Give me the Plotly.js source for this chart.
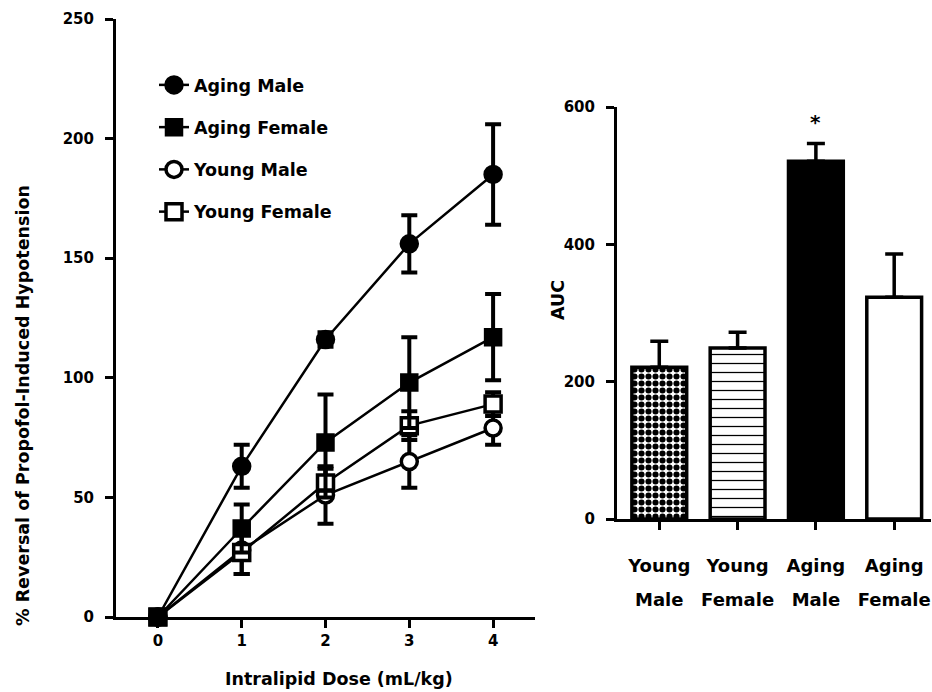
<!DOCTYPE html>
<html>
<head>
<meta charset="utf-8">
<script src="https://cdn.plot.ly/plotly-3.0.1.min.js"></script>
<style>html,body{margin:0;padding:0;background:#fff;}#chart{width:932px;height:692px;}</style>
</head>
<body>
<div id="chart"></div>
<script>
// ---- data ----
const doses = [0, 1, 2, 3, 4];
const seriesNames = ['Aging Male', 'Aging Female', 'Young Male', 'Young Female'];
const agingMale = [0, 63, 116, 156, 185];
const agingMaleErr = [0, 9, 3, 12, 21];
const agingFemale = [0, 37, 73, 98, 117];
const agingFemaleErr = [0, 10, 20, 19, 18];
const youngMale = [0, 28, 51, 65, 79];
const youngMaleErr = [0, 10, 12, 11, 7];
const youngFemale = [0, 27, 56, 80, 89];
const youngFemaleErr = [0, 9, 6, 6, 5];

const aucGroups = ['Young Male', 'Young Female', 'Aging Male', 'Aging Female'];
const aucValues = [221, 249, 521, 323];
const aucErr = [38, 23, 26, 63];

const xTitle = 'Intralipid Dose (mL/kg)';
const yTitle = '% Reversal of Propofol-Induced Hypotension';
const y2Title = 'AUC';

// ---- styles ----
const FONT = 'DejaVu Sans, Arial, sans-serif';
const symbols = ['circle', 'square', 'circle', 'square'];
const fills = ['black', 'black', 'white', 'white'];
const sizes = [16, 15, 16, 16];
const ys = [agingMale, agingFemale, youngMale, youngFemale];
const errs = [agingMaleErr, agingFemaleErr, youngMaleErr, youngFemaleErr];
const drawOrder = [2, 3, 1, 0]; // young male, young female, aging female, aging male (top)

const traces = [];
drawOrder.forEach(i => {
  traces.push({
    type: 'scatter', mode: 'lines+markers',
    x: doses, y: ys[i], name: seriesNames[i],
    xaxis: 'x', yaxis: 'y',
    legendgroup: 'g' + i, legendrank: i + 1,
    cliponaxis: false,
    line: {color: 'black', width: 2.5},
    marker: {symbol: symbols[i], size: sizes[i], color: fills[i], line: {color: 'black', width: 3.5}},
    error_y: {type: 'data', array: errs[i], visible: true, color: 'black', thickness: 4, width: 8}
  });
});

const patShapes = ['.', '-', '', ''];
const patSizes = [7, 9, 8, 8];
const patSolid = [0.6, 0.14, 0.3, 0.3];
const barColors = ['white', 'white', 'black', 'white'];
aucGroups.forEach((g, k) => {
  const marker = {color: barColors[k], line: {color: 'black', width: 3.5}};
  if (patShapes[k]) {
    marker.pattern = {shape: patShapes[k], fgcolor: 'black', bgcolor: 'white', size: patSizes[k], solidity: patSolid[k], fillmode: 'replace'};
  }
  traces.push({
    type: 'bar', x: [g], y: [aucValues[k]],
    xaxis: 'x2', yaxis: 'y2', showlegend: false, width: 0.7,
    marker: marker,
    error_y: {type: 'data', symmetric: false, array: [aucErr[k]], arrayminus: [0], color: 'black', thickness: 3.5, width: 9}
  });
});

const aucTickText = aucGroups.map(g => g.split(' ').map(w => "<span style='font-size:18px'>" + w + "</span>").join('<br>'));

const W = 932, H = 692;
const px = v => v / W, py = v => 1 - v / H;

const axisCommon = {
  showline: true, linecolor: 'black', linewidth: 3,
  ticks: 'outside', ticklen: 8, tickwidth: 3, tickcolor: 'black',
  showgrid: false, zeroline: false, fixedrange: true,
  tickfont: {family: FONT, size: 15, color: 'black', weight: 'bold'}
};
const titleFont = {family: FONT, size: 17.5, color: 'black', weight: 'bold'};

const layout = {
  width: W, height: H,
  margin: {l: 0, r: 0, t: 0, b: 0},
  paper_bgcolor: 'white', plot_bgcolor: 'white',
  barmode: 'overlay',
  showlegend: true,
  legend: {
    x: px(154), y: py(67), xanchor: 'left', yanchor: 'top',
    bgcolor: 'rgba(0,0,0,0)', traceorder: 'grouped', tracegroupgap: 16.5,
    font: {family: FONT, size: 17.5, color: 'black', weight: 'bold'},
    itemwidth: 30
  },
  xaxis: Object.assign({}, axisCommon, {
    domain: [px(116), px(535)], anchor: 'y', range: [-0.5, 4.5],
    tickmode: 'array', tickvals: doses, ticklabelstandoff: 0
  }),
  yaxis: Object.assign({}, axisCommon, {
    domain: [py(617), py(19)], anchor: 'x', range: [0, 250], dtick: 50,
    ticklabelstandoff: 8
  }),
  xaxis2: Object.assign({}, axisCommon, {
    domain: [px(617), px(931)], anchor: 'y2', type: 'category', range: [-0.54, 3.47],
    tickmode: 'array', tickvals: aucGroups, ticktext: aucTickText,
    tickfont: {family: FONT, size: 26, color: 'black', weight: 'bold'},
    ticklabelstandoff: 11
  }),
  yaxis2: Object.assign({}, axisCommon, {
    domain: [py(519), py(107)], anchor: 'x2', range: [0, 600], dtick: 200,
    ticklabelstandoff: 8
  }),
  annotations: [
    {xref: 'paper', yref: 'paper', x: px(339), y: py(679), text: xTitle, showarrow: false, font: titleFont, xanchor: 'center', yanchor: 'middle'},
    {xref: 'paper', yref: 'paper', x: px(23), y: py(406), text: yTitle, textangle: -90, showarrow: false, font: titleFont, xanchor: 'center', yanchor: 'middle'},
    {xref: 'paper', yref: 'paper', x: px(558), y: py(300), text: y2Title, textangle: -90, showarrow: false, font: titleFont, xanchor: 'center', yanchor: 'middle'},
    {xref: 'x2', yref: 'y2', x: aucGroups[2], y: aucValues[2] + aucErr[2], yshift: 21,
     text: '*', showarrow: false, font: {family: FONT, size: 20, color: 'black', weight: 'bold'}}
  ]
};

Plotly.newPlot('chart', traces, layout, {displayModeBar: false, staticPlot: true});
</script>
</body>
</html>
